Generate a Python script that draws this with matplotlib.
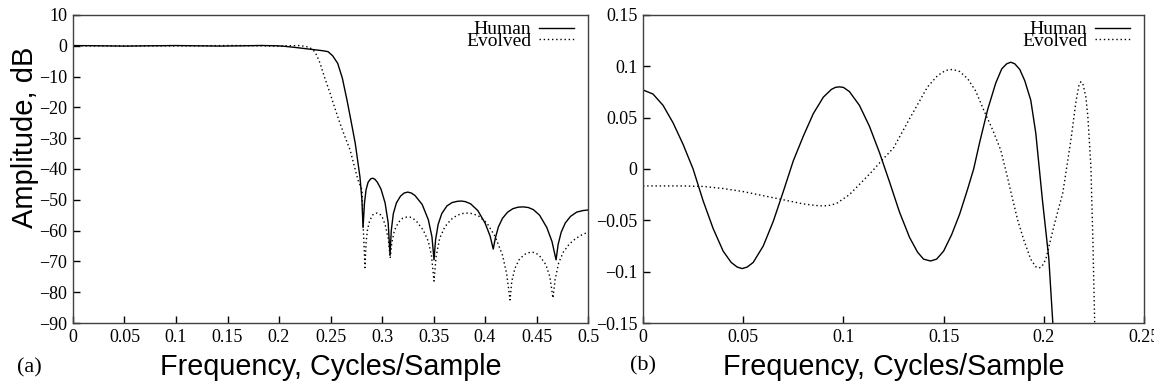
import matplotlib
matplotlib.use('Agg')
import matplotlib.pyplot as plt
from matplotlib.ticker import FuncFormatter, MultipleLocator

# (a) full response, dB
human_f = [0.000, 0.025, 0.050, 0.075, 0.100, 0.120, 0.143, 0.165, 0.183, 0.198,
           0.205, 0.215, 0.225, 0.235, 0.2425, 0.2476, 0.252, 0.257, 0.2615, 0.266,
           0.270, 0.274, 0.2786, 0.2805, 0.2816,
           0.2830, 0.2845, 0.2865, 0.2890, 0.2910, 0.2930, 0.2955, 0.2990, 0.3030, 0.3060, 0.3078,
           0.3090, 0.3110, 0.3140, 0.3180, 0.3215, 0.3250, 0.3285, 0.3320, 0.3390, 0.3450,
           0.3485, 0.3505,
           0.3520, 0.3545, 0.3580, 0.3630, 0.3680, 0.3730, 0.3770, 0.3810, 0.3860, 0.3930,
           0.4000, 0.4050, 0.4080,
           0.4100, 0.4130, 0.4170, 0.4220, 0.4270, 0.4320, 0.4370, 0.4420, 0.4470, 0.4530,
           0.4600, 0.4650, 0.4690,
           0.4710, 0.4740, 0.4780, 0.4830, 0.4890, 0.4950, 0.5000]
human_db = [0.08, 0.0, -0.10, 0.0, 0.08, 0.0, -0.09, 0.0, 0.10, 0.0,
            -0.15, -0.5, -0.9, -1.3, -1.6, -1.9, -3.2, -5.7, -10.5, -17.6,
            -24.5, -31.6, -42.6, -50.0, -59.0,
            -51.0, -46.8, -44.3, -43.2, -43.0, -43.3, -44.3, -46.5, -51.0, -57.5, -68.0,
            -60.0, -54.5, -51.0, -48.8, -47.8, -47.5, -47.8, -48.6, -51.5, -56.5,
            -62.0, -69.5,
            -63.0, -58.0, -54.5, -52.0, -50.9, -50.5, -50.4, -50.6, -51.3, -53.5,
            -57.5, -61.8, -66.0,
            -62.5, -58.8, -56.0, -54.0, -52.9, -52.4, -52.3, -52.5, -53.2, -55.0,
            -59.0, -63.5, -69.5,
            -64.5, -60.5, -57.5, -55.4, -54.0, -53.5, -53.3]

evolved_f = [0.000, 0.050, 0.100, 0.120, 0.1545, 0.175, 0.1975, 0.2185, 0.2255, 0.229,
             0.233, 0.2365, 0.2398, 0.2445, 0.2495, 0.254, 0.259, 0.264, 0.269, 0.2767,
             0.2806, 0.2816, 0.2835,
             0.2845, 0.2860, 0.2880, 0.2910, 0.2935, 0.2955, 0.2975, 0.3000, 0.3030, 0.3060, 0.3080,
             0.3095, 0.3120, 0.3160, 0.3200, 0.3240, 0.3270, 0.3300, 0.3340, 0.3400, 0.3450,
             0.3480, 0.3505,
             0.3525, 0.3560, 0.3610, 0.3670, 0.3730, 0.3790, 0.3835, 0.3880, 0.3940, 0.4020,
             0.4100, 0.4170, 0.4210, 0.4243,
             0.4260, 0.4290, 0.4330, 0.4380, 0.4420, 0.4456, 0.4490, 0.4530, 0.4590, 0.4630,
             0.4660,
             0.4680, 0.4715, 0.4760, 0.4820, 0.4880, 0.4940, 0.5000]
evolved_db = [-0.02, -0.02, -0.03, 0.0, 0.10, 0.03, -0.10, 0.08, -0.15, -0.5,
              -1.2, -3.0, -5.6, -10.5, -15.3, -20.0, -25.0, -29.5, -33.8, -43.6,
              -46.8, -57.5, -72.0,
              -64.0, -59.5, -56.8, -54.9, -54.4, -54.3, -54.5, -55.4, -58.0, -62.5, -68.9,
              -64.0, -60.0, -57.3, -56.0, -55.6, -55.6, -56.0, -57.2, -59.8, -63.5,
              -68.0, -76.4,
              -68.5, -62.5, -58.8, -56.4, -55.0, -54.4, -54.3, -54.5, -55.3, -57.6,
              -62.0, -68.0, -74.0, -82.5,
              -76.5, -72.3, -69.5, -67.8, -67.2, -67.0, -67.2, -68.2, -71.0, -75.0,
              -81.9,
              -76.0, -70.5, -67.0, -64.3, -62.6, -61.4, -60.5]

# (b) passband detail
pass_human_f = [0.000, 0.005, 0.010, 0.015, 0.020, 0.025, 0.030, 0.035, 0.040, 0.044, 0.047,
                0.0495, 0.052, 0.055, 0.060, 0.065, 0.070, 0.075, 0.080, 0.085, 0.090, 0.094,
                0.096, 0.098, 0.100, 0.103, 0.108, 0.113, 0.118, 0.123, 0.128, 0.133, 0.137,
                0.140, 0.1435, 0.1465, 0.150, 0.154, 0.158, 0.162, 0.165, 0.168, 0.172, 0.176,
                0.179, 0.1815, 0.1835, 0.1855, 0.188, 0.1905, 0.1935, 0.196, 0.1993, 0.2025,
                0.2045, 0.207, 0.212]
pass_human_db = [0.077, 0.073, 0.062, 0.045, 0.024, 0.0, -0.031, -0.058, -0.080, -0.091, -0.0955,
                 -0.097, -0.0955, -0.091, -0.075, -0.051, -0.022, 0.008, 0.032, 0.054, 0.070, 0.0775,
                 0.0795, 0.080, 0.0795, 0.0754, 0.062, 0.0416, 0.016, -0.0125, -0.042, -0.0666, -0.081,
                 -0.0878, -0.0896, -0.0878, -0.080, -0.064, -0.044, -0.0195, 0.0, 0.026, 0.058, 0.0836,
                 0.0975, 0.1025, 0.104, 0.1025, 0.097, 0.086, 0.067, 0.035, -0.030, -0.087,
                 -0.150, -0.25, -0.45]

pass_evolved_f = [0.000, 0.010, 0.020, 0.030, 0.040, 0.050, 0.060, 0.070, 0.080, 0.086,
                  0.090, 0.094, 0.097, 0.103, 0.108, 0.1135, 0.119, 0.125, 0.1335, 0.142,
                  0.147, 0.151, 0.1545, 0.158, 0.162, 0.166, 0.170, 0.1745, 0.1785, 0.1815,
                  0.1845, 0.187, 0.190, 0.1935, 0.1960, 0.1975, 0.1990, 0.201, 0.205, 0.2095,
                  0.2135, 0.216, 0.2175, 0.2185, 0.2195, 0.2210, 0.222, 0.2235, 0.2245, 0.2255,
                  0.227]
pass_evolved_db = [-0.0165, -0.0165, -0.0165, -0.017, -0.019, -0.022, -0.026, -0.030, -0.034, -0.0355,
                   -0.036, -0.0352, -0.033, -0.025, -0.015, -0.004, 0.008, 0.0205, 0.0507, 0.080,
                   0.091, 0.096, 0.097, 0.095, 0.088, 0.076, 0.0575, 0.038, 0.0185, -0.005,
                   -0.030, -0.050, -0.069, -0.088, -0.0952, -0.0965, -0.0952, -0.088, -0.056, -0.023,
                   0.028, 0.065, 0.081, 0.085, 0.083, 0.070, 0.0507, 0.002, -0.07, -0.16,
                   -0.30]

SERIF = 'Liberation Serif'
SANS = 'Liberation Sans'
FIG_W = 1154


def fmt(v, pos):
    s = '%g' % round(v, 6)
    if s == '-0':
        s = '0'
    return s.replace('-', '\u2212')


def style_axes(ax):
    ax.tick_params(direction='in', length=5, width=1, top=False, right=False,
                   labelsize=13, pad=4, colors='black')
    for lab in ax.get_xticklabels() + ax.get_yticklabels():
        lab.set_family(SERIF)
    for sp in ax.spines.values():
        sp.set_color('#404040')
        sp.set_linewidth(1.0)
    ax.xaxis.set_major_formatter(FuncFormatter(fmt))
    ax.yaxis.set_major_formatter(FuncFormatter(fmt))
    # legend sits a few pixels further in from the right edge than from the top
    w_px = ax.get_position().width * FIG_W
    leg = ax.legend(loc='upper right', frameon=False, markerfirst=False,
                    prop={'family': SERIF, 'size': 14}, handlelength=1.8,
                    handletextpad=0.4, labelspacing=-0.3, borderpad=0.0,
                    borderaxespad=0.3, bbox_to_anchor=(1 - 8 / w_px, 1))
    return leg


fig = plt.figure(figsize=(11.54, 3.85), dpi=100)
ax1 = fig.add_axes([73 / 1154, 1 - 323 / 385, 515 / 1154, 308 / 385])
ax2 = fig.add_axes([643 / 1154, 1 - 323 / 385, 501 / 1154, 308 / 385])

ax1.plot(human_f, human_db, color='black', lw=1.0, label='Human')
ax1.plot(evolved_f, evolved_db, color='black', lw=1.0, dashes=(1, 2), label='Evolved')
ax1.set_xlim(0, 0.5)
ax1.set_ylim(-90, 10)
ax1.xaxis.set_major_locator(MultipleLocator(0.05))
ax1.yaxis.set_major_locator(MultipleLocator(10))
style_axes(ax1)
ax1.set_xlabel('Frequency, Cycles/Sample', family=SANS, fontsize=20.7)
ax1.xaxis.set_label_coords(0.5, -0.169)
ax1.xaxis.label.set_va('baseline')
ax1.set_ylabel('Amplitude, dB', family=SANS, fontsize=21)
ax1.yaxis.set_label_coords(-0.078, 0.604)
ax1.yaxis.label.set_va('baseline')

ax2.plot(pass_human_f, pass_human_db, color='black', lw=1.0, label='Human')
ax2.plot(pass_evolved_f, pass_evolved_db, color='black', lw=1.0, dashes=(1, 2), label='Evolved')
ax2.set_xlim(0, 0.25)
ax2.set_ylim(-0.15, 0.15)
ax2.xaxis.set_major_locator(MultipleLocator(0.05))
ax2.yaxis.set_major_locator(MultipleLocator(0.05))
style_axes(ax2)
ax2.set_xlabel('Frequency, Cycles/Sample', family=SANS, fontsize=20.7)
ax2.xaxis.set_label_coords(0.5, -0.169)
ax2.xaxis.label.set_va('baseline')

fig.text(17 / 1154, 1 - 372 / 385, '(a)', family=SERIF, fontsize=16, va='baseline', ha='left')
fig.text(630 / 1154, 1 - 370 / 385, '(b)', family=SERIF, fontsize=16, va='baseline', ha='left')

fig.savefig('out.png', dpi=100)
